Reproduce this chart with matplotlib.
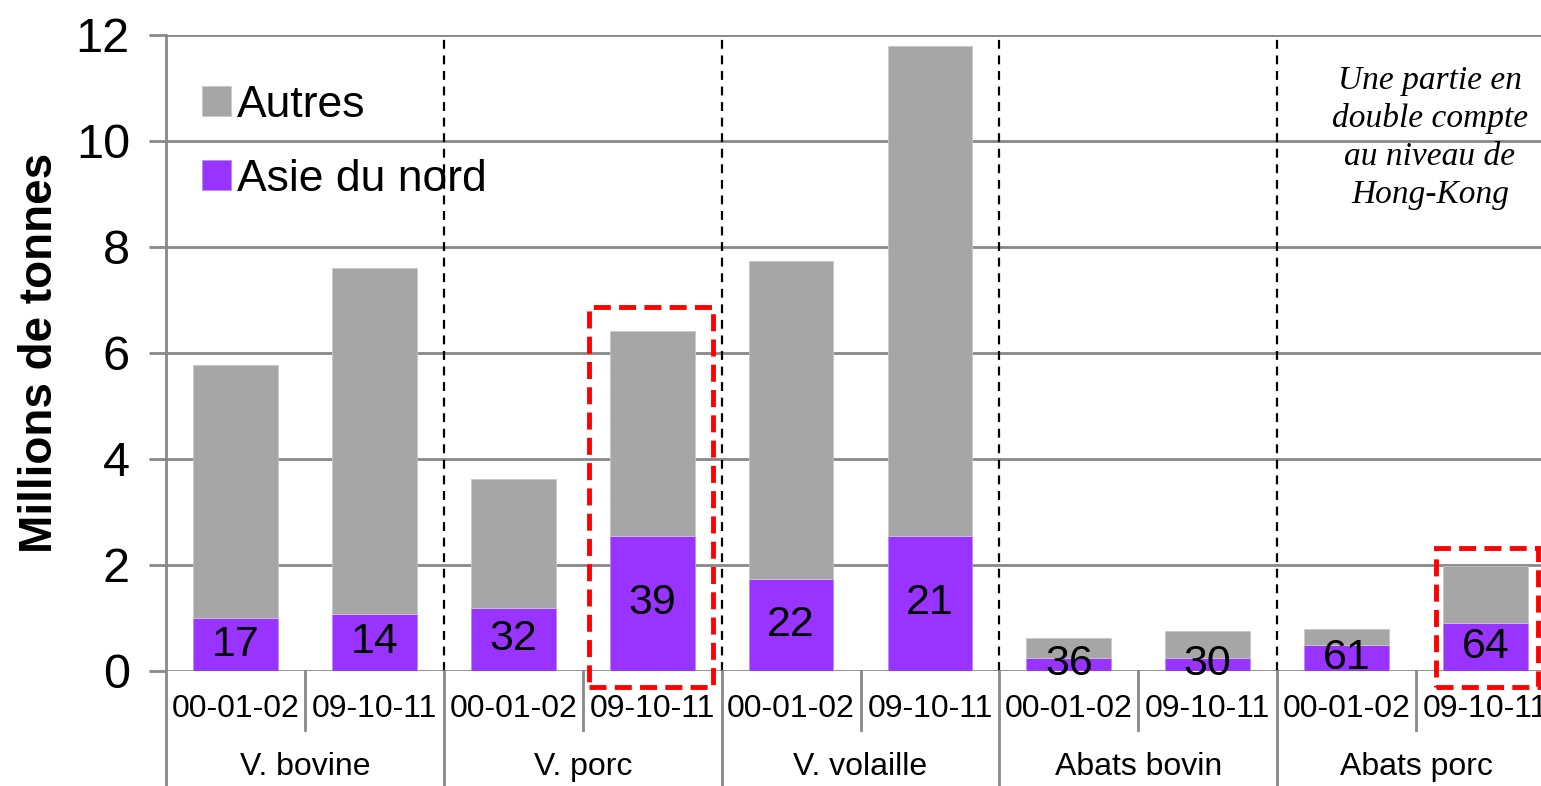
import matplotlib.pyplot as plt
from matplotlib.patches import Rectangle

plt.rcParams['font.family'] = ['Liberation Sans', 'DejaVu Sans']

# data
groups = ["V. bovine", "V. porc", "V. volaille", "Abats bovin", "Abats porc"]
periods = ["00-01-02", "09-10-11"]
asie = [1.0, 1.08, 1.19, 2.55, 1.74, 2.55, 0.25, 0.25, 0.49, 0.91]
totals = [5.77, 7.60, 3.62, 6.42, 7.74, 11.79, 0.62, 0.75, 0.79, 1.98]
pct = [17, 14, 32, 39, 22, 21, 36, 30, 61, 64]

autres = [t - a for t, a in zip(totals, asie)]
x = list(range(len(totals)))

GREY = "#A6A6A6"
PURPLE = "#9933FF"
LINE = "#888888"

fig = plt.figure(figsize=(15.41, 7.86), dpi=100)
ax = fig.add_axes([166 / 1541, 115 / 786, 1389 / 1541, 636 / 786])

ax.bar(x, asie, width=0.61, color=PURPLE, edgecolor="#B98CF0", linewidth=0.6,
       label="Asie du nord", zorder=3)
ax.bar(x, autres, bottom=asie, width=0.61, color=GREY, edgecolor="#C8C8C8",
       linewidth=0.6, label="Autres", zorder=3)

for xi, a, p in zip(x, asie, pct):
    ax.text(xi, a / 2, str(p), ha="center", va="center", fontsize=31, zorder=5)

ax.set_xlim(-0.5, 9.5)
ax.set_ylim(0, 12)
ax.set_yticks(range(0, 13, 2))
ax.tick_params(axis="y", labelsize=35, length=12, color=LINE, width=2, pad=14)
ax.set_xticks([])
ax.yaxis.grid(True, color=LINE, linewidth=2, zorder=0)
for s in ["top", "right", "bottom", "left"]:
    ax.spines[s].set_visible(False)

ax.set_ylabel("Millions de tonnes", fontsize=33, fontweight="bold", labelpad=10)

# dashed group separators
for b in [1.5, 3.5, 5.5, 7.5]:
    ax.plot([b, b], [0, 12], color="black", linestyle=(0, (4, 3)), linewidth=1.6, zorder=2)

# category axis below
ax.plot([-0.5, -0.5], [-2.2, 12], color=LINE, linewidth=2, clip_on=False, zorder=4)
for b in [1.5, 3.5, 5.5, 7.5]:
    ax.plot([b, b], [-2.2, 0], color=LINE, linewidth=2, clip_on=False)
for b in [0.5, 2.5, 4.5, 6.5, 8.5]:
    ax.plot([b, b], [-1.12, 0], color=LINE, linewidth=2, clip_on=False)
for i, xi in enumerate(x):
    ax.text(xi, -0.72, periods[i % 2], ha="center", va="center", fontsize=23, clip_on=False)
for g, name in enumerate(groups):
    ax.text(2 * g + 0.5, -1.81, name, ha="center", va="center", fontsize=23, clip_on=False)

# red highlight boxes
for (x0, x1, y1) in [(2.545, 3.44, 6.87), (8.64, 9.38, 2.32)]:
    ax.add_patch(Rectangle((x0, -0.30), x1 - x0, y1 + 0.30, fill=False,
                           edgecolor="red", linewidth=3.5, linestyle=(0, (3.5, 1.7)),
                           clip_on=False, zorder=6))

handles, labels = ax.get_legend_handles_labels()
ax.legend(handles[::-1], labels[::-1], loc="upper left", bbox_to_anchor=(-0.003, 0.985),
          frameon=False, fontsize=32, handlelength=0.65, handleheight=0.65,
          handletextpad=0.15, labelspacing=0.75)

ax.text(8.6, 10.06, "Une partie en\ndouble compte\nau niveau de\nHong-Kong", ha="center",
        va="center", fontsize=24, style="italic", family="Liberation Serif",
        linespacing=1.32)

fig.savefig("out.png", dpi=100)
